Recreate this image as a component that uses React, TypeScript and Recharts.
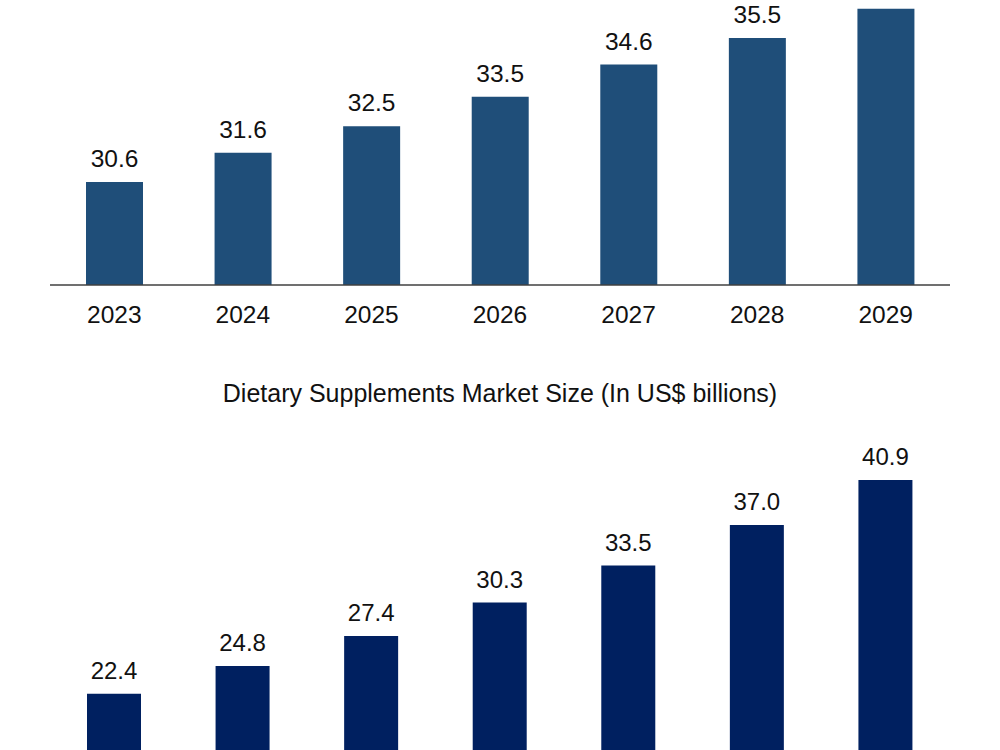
import React from "react";
import { BarChart, Bar, XAxis, YAxis, LabelList } from "recharts";

// Top panel: market value by year (axis starts above zero)
const topYears = ["2023", "2024", "2025", "2026", "2027", "2028", "2029"];
const topValues = [30.6, 31.6, 32.5, 33.5, 34.6, 35.5, 36.5];

// Bottom panel: Dietary Supplements market size, US$ billions
const supplementYears = ["2023", "2024", "2025", "2026", "2027", "2028", "2029"];
const supplementValues = [22.4, 24.8, 27.4, 30.3, 33.5, 37.0, 40.9];

const bottomTitle = "Dietary Supplements Market Size (In US$ billions)";

const FONT = '"Liberation Sans", Arial, Helvetica, sans-serif';

const topData = topYears.map((year, i) => ({ year, value: topValues[i] }));
const supplementData = supplementYears.map((year, i) => ({ year, value: supplementValues[i] }));

const YearTick = (props: any) => {
  const { x, y, payload } = props;
  return (
    <text x={x} y={y + 37.5} textAnchor="middle" fontFamily={FONT} fontSize={24.5} fill="#111">
      {payload.value}
    </text>
  );
};

const fmt = (v: any) => Number(v).toFixed(1);

export default function App() {
  return (
    <div
      style={{
        position: "fixed",
        top: 0,
        left: 0,
        width: 1000,
        height: 750,
        overflow: "hidden",
        background: "#ffffff",
      }}
    >
      <div style={{ position: "absolute", top: -59.5, left: 0 }}>
        <BarChart
          width={1000}
          height={404}
          data={topData}
          margin={{ top: 50, right: 50, bottom: 10, left: 50 }}
        >
          <XAxis
            dataKey="year"
            height={50}
            tickLine={false}
            tickSize={0}
            tickMargin={0}
            axisLine={{ stroke: "#404040", strokeWidth: 1.5 }}
            tick={<YearTick />}
            interval={0}
          />
          <YAxis hide type="number" domain={[27.1, 37.1]} allowDataOverflow />
          <Bar dataKey="value" fill="#1F4E79" barSize={57} isAnimationActive={false}>
            <LabelList
              dataKey="value"
              position="top"
              offset={15}
              formatter={fmt}
              style={{ fontFamily: FONT, fontSize: 24.5, fill: "#111" }}
            />
          </Bar>
        </BarChart>
      </div>

      <svg
        width={1000}
        height={60}
        style={{ position: "absolute", top: 360, left: 0 }}
      >
        <text x={500} y={41.5} textAnchor="middle" fontFamily={FONT} fontSize={25} fill="#111">
          {bottomTitle}
        </text>
      </svg>

      <div style={{ position: "absolute", top: 412, left: 0 }}>
        <BarChart
          width={1000}
          height={600}
          data={supplementData}
          margin={{ top: 20.6, right: 50, bottom: 19.2, left: 50 }}
        >
          <XAxis
            dataKey="year"
            height={40}
            tickLine={false}
            tickSize={0}
            tickMargin={0}
            axisLine={{ stroke: "#404040", strokeWidth: 1.5 }}
            tick={<YearTick />}
            interval={0}
          />
          <YAxis hide type="number" domain={[0, 45]} allowDataOverflow />
          <Bar dataKey="value" fill="#002060" barSize={54} isAnimationActive={false}>
            <LabelList
              dataKey="value"
              position="top"
              offset={15}
              formatter={fmt}
              style={{ fontFamily: FONT, fontSize: 24, fill: "#111" }}
            />
          </Bar>
        </BarChart>
      </div>
    </div>
  );
}
